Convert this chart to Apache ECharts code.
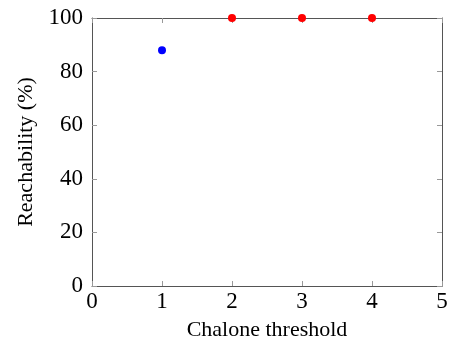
<!DOCTYPE html>
<html>
<head>
    <meta charset="utf-8">
    <title>Reachability</title>
    <script src="https://cdn.jsdelivr.net/npm/echarts@6/dist/echarts.min.js"></script>
    <style>
        html, body { margin: 0; padding: 0; background: #fff; }
        #chart { width: 449px; height: 341px; }
    </style>
</head>
<body>
<div id="chart"></div>
<script>
    // data
    var xTicks = [0, 1, 2, 3, 4, 5];
    var yTicks = [0, 20, 40, 60, 80, 100];
    var blueX = [1];
    var blueY = [88];
    var redX = [2, 3, 4];
    var redY = [100, 100, 100];

    var font = 'Liberation Serif';

    function pairs(xs, ys) {
        return xs.map(function (x, i) { return [x, ys[i]]; });
    }

    var chart = echarts.init(document.getElementById('chart'));

    var tick = { show: true, inside: true, length: 5, lineStyle: { color: '#999', width: 1 } };
    var line = { show: true, onZero: false, lineStyle: { color: '#555', width: 1 } };

    var option = {
        animation: false,
        grid: { left: 92, right: 7, top: 18, bottom: 55, outerBoundsMode: 'none', containLabel: false },
        xAxis: [{
            type: 'value', min: xTicks[0], max: xTicks[xTicks.length - 1], interval: 1,
            name: 'Chalone threshold', nameLocation: 'middle', nameGap: 33,
            nameTextStyle: { fontFamily: font, fontSize: 22, color: '#000' },
            axisLine: line, axisTick: tick, splitLine: { show: false },
            axisLabel: { fontFamily: font, fontSize: 23, color: '#000', margin: 4 }
        }, {
            type: 'value', position: 'top', min: 0, max: 5, interval: 1,
            axisLine: line, axisTick: tick, splitLine: { show: false },
            axisLabel: { show: false }
        }],
        yAxis: [{
            type: 'value', min: yTicks[0], max: yTicks[yTicks.length - 1], interval: 20,
            name: 'Reachability (%)', nameLocation: 'middle', nameGap: 55, nameRotate: 90,
            nameTextStyle: { fontFamily: font, fontSize: 22, color: '#000' },
            axisLine: line, axisTick: tick, splitLine: { show: false },
            axisLabel: { fontFamily: font, fontSize: 23, color: '#000', margin: 9 }
        }, {
            type: 'value', position: 'right', min: 0, max: 100, interval: 20,
            axisLine: line, axisTick: tick, splitLine: { show: false },
            axisLabel: { show: false }
        }],
        series: [{
            type: 'scatter', clip: false, symbol: 'circle', symbolSize: 8, z: 5,
            itemStyle: { color: '#0000ff', opacity: 1 },
            data: pairs(blueX, blueY)
        }, {
            type: 'scatter', clip: false, symbol: 'circle', symbolSize: 8, z: 5,
            itemStyle: { color: '#ff0000', opacity: 1 },
            data: pairs(redX, redY)
        }]
    };
    chart.setOption(option);
</script>
</body>
</html>
